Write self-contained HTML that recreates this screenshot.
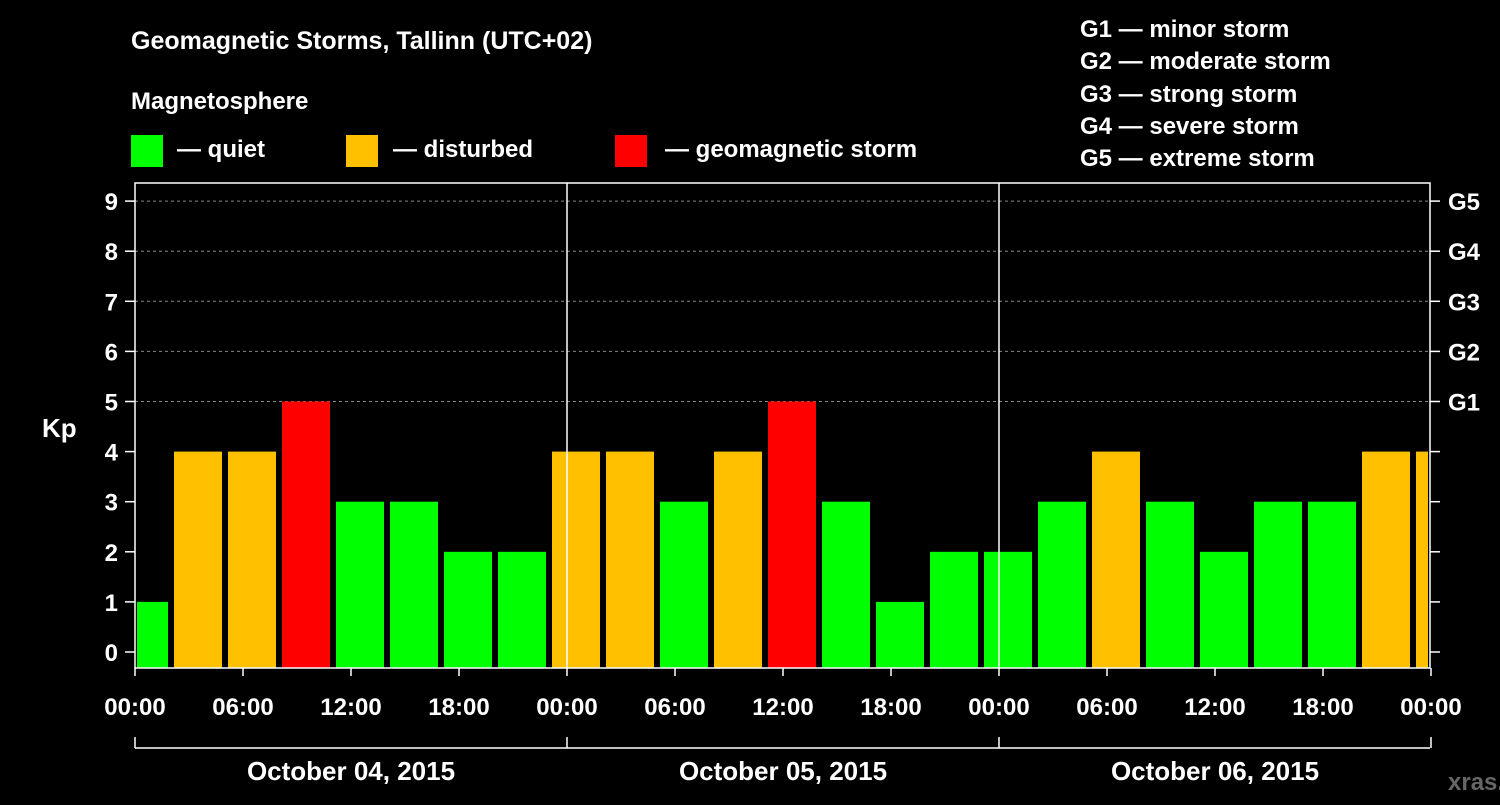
<!DOCTYPE html>
<html><head><meta charset="utf-8"><style>
body{margin:0;background:#000;}
svg text{font-family:"Liberation Sans",sans-serif;font-weight:bold;fill:#fff;}
</style></head><body>
<svg width="1500" height="800" id="c">
<rect width="1500" height="800" fill="#000"/>
<text x="131" y="49" font-size="25">Geomagnetic Storms, Tallinn (UTC+02)</text>
<text x="131" y="109" font-size="24">Magnetosphere</text>
<g><rect x="131" y="135" width="32" height="32" fill="#00ff00"/><text x="177" y="157" font-size="24">— quiet</text></g>
<g><rect x="346" y="135" width="32" height="32" fill="#ffc000"/><text x="393" y="157" font-size="24">— disturbed</text></g>
<g><rect x="615" y="135" width="32" height="32" fill="#ff0000"/><text x="665" y="157" font-size="24">— geomagnetic storm</text></g>
<g font-size="24">
<text x="1080" y="37">G1 — minor storm</text><text x="1080" y="69">G2 — moderate storm</text><text x="1080" y="102">G3 — strong storm</text><text x="1080" y="134">G4 — severe storm</text><text x="1080" y="166">G5 — extreme storm</text></g>
<text x="42" y="437" font-size="26">Kp</text>
<text x="1448" y="790" font-size="24" fill="#888" style="fill:#666">xras.ru</text>
<g id="grid"></g><g id="bars"></g><g id="axes"></g>
</svg>
<script>
const kpValues=[1,4,4,5,3,3,2,2,4,4,3,4,5,3,1,2,2,3,4,3,2,3,3,4,4];
const yTicks=[0,1,2,3,4,5,6,7,8,9];
const gLabels=["G1","G2","G3","G4","G5"];
const hourLabels=["00:00","06:00","12:00","18:00","00:00","06:00","12:00","18:00","00:00","06:00","12:00","18:00","00:00"];
const dayLabels=["October 04, 2015","October 05, 2015","October 06, 2015"];
const firstSlotHour=-1; // slots start at 02:00 local (UTC+2), first partial
const X0=135,X1=1430,PXH=18,Y0=652,PXK=50.1,TOP=183,BOT=668;
const ns="http://www.w3.org/2000/svg";
const xs=h=>X0+h*PXH, ys=k=>Y0-k*PXK;
function mk(p,t,a){const e=document.createElementNS(ns,t);for(const k in a)e.setAttribute(k,a[k]);p.appendChild(e);return e;}
const grid=document.getElementById('grid'),bars=document.getElementById('bars'),axes=document.getElementById('axes');
yTicks.forEach(k=>{
 if(k>=5){const l=mk(grid,'line',{x1:X0,x2:X1,y1:ys(k),y2:ys(k),stroke:'#888','stroke-dasharray':'3,3','stroke-width':1});
 }
 mk(axes,'line',{x1:X0-10,x2:X0,y1:ys(k),y2:ys(k),stroke:'#fff','stroke-width':1.5});
 mk(axes,'line',{x1:X1,x2:X1+10,y1:ys(k),y2:ys(k),stroke:'#fff','stroke-width':1.5});
 const t=mk(axes,'text',{x:118,y:ys(k)+9,'font-size':24,'text-anchor':'end'});t.textContent=k;
 
});
gLabels.forEach((g,i)=>{const t=mk(axes,'text',{x:1448,y:ys(5+i)+9,'font-size':24});t.textContent=g;
 });
const colorOf=k=>k>=5?'#ff0000':(k>=4?'#ffc000':'#00ff00');
kpValues.forEach((v,i)=>{
 const h0=firstSlotHour+(i-1)*3+3-3+ (i===0?0:0);
 const start=firstSlotHour+i*3-3+3 - (i===0?0:0);
 let s=(i===0? -1: 2+(i-1)*3), e=s+3;
 let a=Math.max(xs(s)+3,X0+2), b=Math.min(xs(e)-3,X1-2);
 const r=mk(bars,'rect',{x:a,y:ys(v),width:b-a,height:BOT-ys(v),fill:colorOf(v)});
 
});
[24,48].forEach(h=>mk(axes,'line',{x1:xs(h),x2:xs(h),y1:TOP,y2:BOT,stroke:'#fff','stroke-width':1.5}));
const f=mk(axes,'rect',{x:X0,y:TOP,width:X1-X0,height:BOT-TOP,fill:'none',stroke:'#fff','stroke-width':1.5});

hourLabels.forEach((l,i)=>{const x=xs(i*6);
 mk(axes,'line',{x1:x,x2:x,y1:BOT,y2:BOT+8,stroke:'#fff','stroke-width':1.5});
 const t=mk(axes,'text',{x:x,y:715,'font-size':24,'text-anchor':'middle'});t.textContent=l;
 });
mk(axes,'line',{x1:X0,x2:X1,y1:748,y2:748,stroke:'#fff','stroke-width':1.5});
[0,24,48,72].forEach(h=>mk(axes,'line',{x1:xs(h),x2:xs(h),y1:737,y2:748,stroke:'#fff','stroke-width':1.5}));
dayLabels.forEach((d,i)=>{const t=mk(axes,'text',{x:xs(i*24+12),y:780,'font-size':26,'text-anchor':'middle'});t.textContent=d;
 });
</script>
</body></html>
